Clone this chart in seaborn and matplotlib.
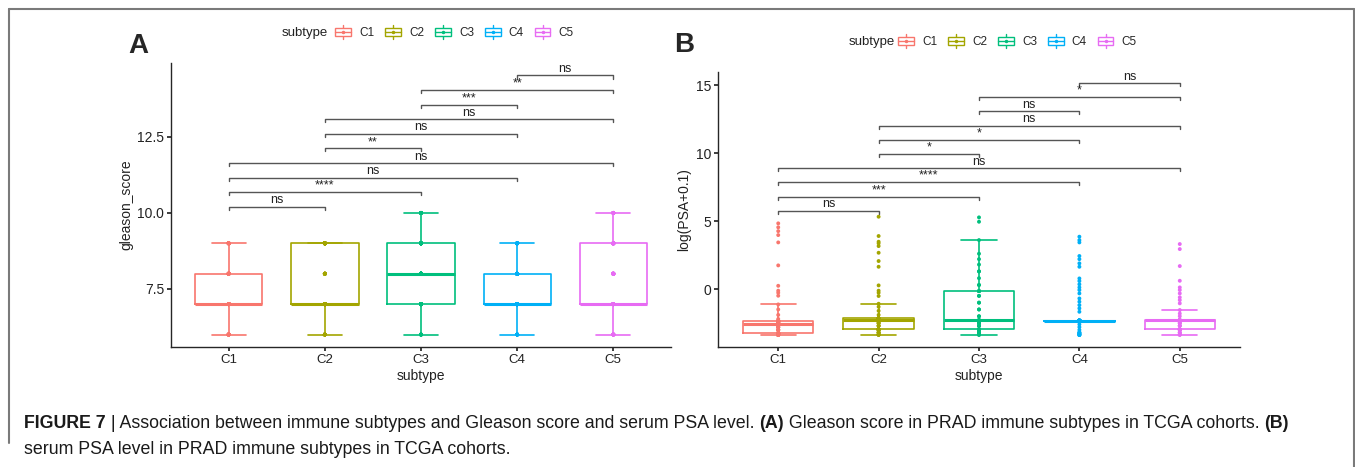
import numpy as np
import pandas as pd
import matplotlib
matplotlib.use("Agg")
import matplotlib.pyplot as plt
import seaborn as sns
from matplotlib.patches import Patch, Rectangle
from matplotlib.lines import Line2D
from matplotlib.legend_handler import HandlerBase

# ---- data ----
subtypes = ["C1", "C2", "C3", "C4", "C5"]
palette = ["#F8766D", "#A3A500", "#00BF7D", "#00B0F6", "#E76BF3"]

# panel A: gleason score, counts per score level
gleason_levels = [6, 7, 8, 9, 10]
gleason_c1 = [15, 45, 25, 15, 0]
gleason_c2 = [12, 48, 10, 30, 0]
gleason_c3 = [10, 25, 30, 25, 10]
gleason_c4 = [12, 48, 25, 15, 0]
gleason_c5 = [10, 45, 15, 20, 10]

# panel B: log(PSA+0.1), value levels and how many samples sit at each
psa_c1_vals = [-3.38, -3.3, -3.24, -3.0, -2.8, -2.57, -2.45, -2.35, -2.2, -1.9, -1.5, -1.13,
               -0.49, -0.27, -0.12, 0.24, 1.74, 3.43, 3.97, 4.26, 4.54, 4.83]
psa_c1_counts = [5, 5, 8, 4, 4, 8, 6, 8, 1, 1, 1, 1, 1, 1, 1, 1, 1, 1, 1, 1, 1, 1]

psa_c2_vals = [-3.36, -3.2, -2.97, -2.7, -2.5, -2.28, -2.16, -1.9, -1.6, -1.3, -1.08,
               -0.51, -0.27, -0.12, 0.27, 1.64, 2.06, 2.67, 3.16, 3.36, 3.48, 3.9, 5.32]
psa_c2_counts = [4, 4, 12, 3, 3, 16, 12, 1, 1, 1, 1, 1, 1, 1, 1, 1, 1, 1, 1, 1, 1, 1, 1]

psa_c3_vals = [-3.36, -3.2, -2.97, -2.7, -2.5, -2.3, -2.0, -1.5, -1.0, -0.5, -0.15,
               0.3, 0.8, 1.3, 1.8, 2.2, 2.6, 3.6, 4.95, 5.27]
psa_c3_counts = [3, 3, 11, 3, 3, 11, 2, 2, 2, 2, 4, 2, 1, 2, 1, 1, 1, 1, 1, 1]

psa_c4_vals = [-3.38, -3.3, -3.2, -3.0, -2.8, -2.6, -2.33, -1.67, -1.42, -1.18, -0.93, -0.69,
               -0.32, -0.07, 0.12, 0.35, 0.59, 0.78, 1.64, 1.89, 2.2, 2.43, 3.43, 3.6, 3.85]
psa_c4_counts = [3, 3, 3, 1, 1, 1, 45, 1, 1, 1, 1, 1, 1, 1, 1, 1, 1, 1, 1, 1, 1, 1, 1, 1, 1]

psa_c5_vals = [-3.36, -3.2, -2.97, -2.7, -2.5, -2.3, -2.0, -1.8, -1.54,
               -1.05, -0.81, -0.61, -0.32, -0.07, 0.12, 0.61, 1.69, 2.94, 3.31]
psa_c5_counts = [3, 3, 10, 3, 3, 20, 1, 1, 1, 1, 1, 1, 1, 1, 1, 1, 1, 1, 1]

pairs = [(0, 1), (0, 2), (0, 3), (0, 4), (1, 2), (1, 3), (1, 4), (2, 3), (2, 4), (3, 4)]
labels_a = ["ns", "****", "ns", "ns", "**", "ns", "ns", "***", "**", "ns"]
labels_b = ["ns", "***", "****", "ns", "*", "*", "ns", "ns", "*", "ns"]

caption_line1 = [
    ("FIGURE 7", "bold"),
    (" | Association between immune subtypes and Gleason score and serum PSA level. ", "normal"),
    ("(A)", "bold"),
    (" Gleason score in PRAD immune subtypes in TCGA cohorts. ", "normal"),
    ("(B)", "bold"),
]
caption_line2 = "serum PSA level in PRAD immune subtypes in TCGA cohorts."

# ---- build long tables ----
gl_rows = []
for name, counts in zip(subtypes, [gleason_c1, gleason_c2, gleason_c3, gleason_c4, gleason_c5]):
    gl_rows.append(pd.DataFrame({"subtype": name,
                                 "gleason_score": np.repeat(gleason_levels, counts)}))
gleason_df = pd.concat(gl_rows, ignore_index=True)

psa_rows = []
for name, vals, counts in zip(subtypes,
                              [psa_c1_vals, psa_c2_vals, psa_c3_vals, psa_c4_vals, psa_c5_vals],
                              [psa_c1_counts, psa_c2_counts, psa_c3_counts, psa_c4_counts, psa_c5_counts]):
    psa_rows.append(pd.DataFrame({"subtype": name, "psa": np.repeat(vals, counts)}))
psa_df = pd.concat(psa_rows, ignore_index=True)

# ---- style ----
sns.set_theme(style="ticks")
plt.rcParams["font.family"] = ["Liberation Sans", "DejaVu Sans"]
plt.rcParams["axes.linewidth"] = 1.0
plt.rcParams["xtick.major.size"] = 3
plt.rcParams["ytick.major.size"] = 3

W, H = 1355, 467
fig = plt.figure(figsize=(W / 100, H / 100), dpi=100)
ax_a = fig.add_axes([171 / W, 1 - 347 / H, 500 / W, 284 / H])
ax_b = fig.add_axes([718 / W, 1 - 347 / H, 522 / W, 275 / H])


class BoxKey(HandlerBase):
    def create_artists(self, legend, orig_handle, xdescent, ydescent, width, height,
                       fontsize, trans):
        c = orig_handle.get_edgecolor()
        x0, y0 = -xdescent, -ydescent
        whisk = Line2D([x0 + width / 2] * 2, [y0 - 0.2 * height, y0 + 1.2 * height],
                       color=c, lw=1, transform=trans)
        box = Rectangle((x0, y0 + 0.1 * height), width, 0.8 * height, fc="white",
                        ec=c, lw=1, transform=trans)
        med = Line2D([x0, x0 + width], [y0 + height / 2] * 2, color=c, lw=1, transform=trans)
        dot = Line2D([x0 + width / 2], [y0 + height / 2], marker="o", ms=1.5, color=c,
                     transform=trans)
        return [whisk, box, med, dot]


def draw_panel(ax, df, col, labels, ylim, yticks, yfmt, ylabel):
    sns.boxplot(data=df, x="subtype", y=col, hue="subtype", order=subtypes,
                hue_order=subtypes, palette=palette, fill=False, width=0.7,
                linewidth=1.2, showfliers=False, legend=False,
                medianprops={"linewidth": 2.2}, ax=ax)
    sns.stripplot(data=df, x="subtype", y=col, hue="subtype", order=subtypes,
                  hue_order=subtypes, palette=palette, jitter=False, size=2.8,
                  legend=False, ax=ax, zorder=3)
    vmax, vmin = df[col].max(), df[col].min()
    rng = vmax - vmin
    base, step, tip = vmax + 0.05 * rng, 0.12 * rng, 0.025 * rng
    for k, ((i, j), lab) in enumerate(zip(pairs, labels)):
        y = base + k * step
        ax.plot([i, i, j, j], [y - tip, y, y, y - tip], color="#555555", lw=1.0,
                clip_on=False)
        ax.text((i + j) / 2, y + 0.004 * rng, lab, ha="center", va="bottom",
                fontsize=9, color="#222222")
    ax.set_xlim(-0.6, 4.6)
    ax.set_ylim(*ylim)
    ax.set_yticks(yticks)
    ax.set_yticklabels([yfmt.format(t) for t in yticks], fontsize=10, color="#222222")
    ax.tick_params(axis="x", labelsize=9.5, labelcolor="#222222", pad=2)
    ax.tick_params(axis="y", pad=2)
    ax.set_xlabel("subtype", fontsize=10, color="#222222", labelpad=2)
    ax.set_ylabel(ylabel, fontsize=10, color="#222222", labelpad=3)
    sns.despine(ax=ax)

    handles = [Patch(facecolor="white", edgecolor=c) for c in palette]
    return handles


h = draw_panel(ax_a, gleason_df, "gleason_score", labels_a, (5.59, 14.93),
               [7.5, 10.0, 12.5], "{:.1f}", "gleason_score")
draw_panel(ax_b, psa_df, "psa", labels_b, (-4.26, 15.96), [0, 5, 10, 15], "{:g}",
           "log(PSA+0.1)")

# legends on top
for ax, x_title, x_leg, y_leg in [(ax_a, 282, 335, 33), (ax_b, 849, 898, 42)]:
    fig.text(x_title / W, 1 - y_leg / H, "subtype", fontsize=9.5, va="center",
             color="#222222")
    ax.legend(h, subtypes, handler_map={Patch: BoxKey()}, loc="center left",
              bbox_to_anchor=(x_leg / W, 1 - y_leg / H), bbox_transform=fig.transFigure,
              ncol=5, frameon=False, fontsize=8.5, handlelength=1.35, handleheight=0.9,
              handletextpad=0.7, columnspacing=0.9, borderpad=0, borderaxespad=0)

# panel letters
fig.text(128 / W, 1 - 53 / H, "A", fontsize=20, fontweight="bold", va="baseline")
fig.text(674 / W, 1 - 52 / H, "B", fontsize=20, fontweight="bold", va="baseline")

# caption
renderer = fig.canvas.get_renderer()
x = 24 / W
for txt, wt in caption_line1:
    t = fig.text(x, 1 - 428 / H, txt, fontsize=12.8, fontweight=wt, va="baseline",
                 color="#1a1a1a")
    x += t.get_window_extent(renderer).width / W
fig.text(24 / W, 1 - 454 / H, caption_line2, fontsize=12.8, va="baseline", color="#1a1a1a")

# frame around the figure area
for xs, ys in [([9, 1354], [9, 9]), ([9, 9], [9, 443]), ([1354, 1354], [9, 467])]:
    fig.add_artist(Line2D([v / W for v in xs], [1 - v / H for v in ys], color="#7a7a7a",
                          lw=1.5, transform=fig.transFigure))

fig.savefig("out.png", dpi=100)
